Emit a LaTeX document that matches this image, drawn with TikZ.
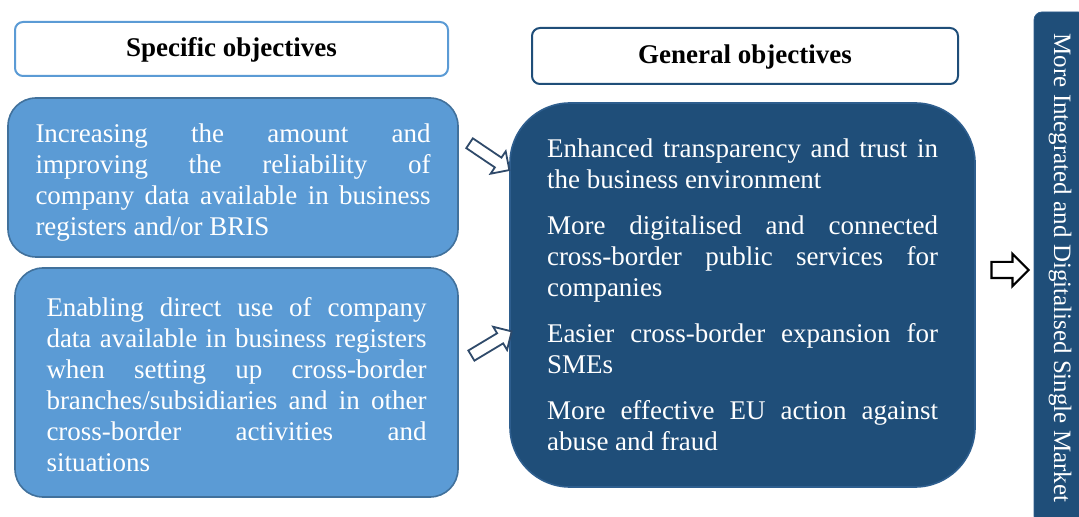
\documentclass[tikz,border=0pt]{standalone}
\usepackage{fontspec}
\setmainfont{Liberation Serif}
\usepackage{xcolor}
\usetikzlibrary{shapes.arrows}
\definecolor{specblue}{HTML}{5B9BD5}
\definecolor{specline}{HTML}{41719C}
\definecolor{genblue}{HTML}{1F4E79}
\definecolor{genline}{HTML}{2E5E8E}
\definecolor{arrline}{HTML}{2F4A6A}
\def\bodyfont{\fontsize{13.5}{15.5}\selectfont}
\def\gap{\par\vspace{7.5pt}}

\begin{document}
\begin{tikzpicture}[x=0.5pt,y=-0.5pt,
	headbox/.style={draw,line width=1pt,fill=white,rounded corners=4pt,font=\bodyfont\bfseries,text depth=1.5pt},
	specbox/.style={draw=specline,line width=0.8pt,fill=specblue,rounded corners=14pt,
		text=white,font=\bodyfont,align=justify,inner sep=0pt},
	genbox/.style={draw=genline,line width=0.8pt,fill=genblue,rounded corners=30pt,
		text=white,font=\bodyfont,align=justify,inner sep=0pt},
	hollow/.style={single arrow,draw=arrline,fill=white,line width=0.9pt,inner sep=2.5pt,
		single arrow head extend=3.8pt,single arrow tip angle=90}
	]
	\useasboundingbox (0,0) rectangle (1079,517);
	\node[headbox,draw=specblue,minimum width=216.5pt,minimum height=27pt] (spec) at (231.5,49) {Specific objectives};
	\node[headbox,draw=genblue,minimum width=213pt,minimum height=28pt] (gen) at (745,56) {General objectives};
	\node[specbox,minimum width=225pt,minimum height=79.5pt,text width=197.5pt] (s1) at (233,177.5)
		{\hyphenpenalty=10000\exhyphenpenalty=10000
		Increasing the amount and\linebreak improving the reliability of\linebreak
		company data available in business\linebreak registers and/or BRIS\par\vspace{-5pt}};
	\node[specbox,minimum width=221.5pt,minimum height=114.5pt,text width=190pt] (s2) at (236.5,382.5)
		{\hyphenpenalty=10000\exhyphenpenalty=10000
		Enabling direct use of company\linebreak data available in business registers\linebreak
		when setting up cross-border\linebreak branches/subsidiaries and in other\linebreak
		cross-border activities and\linebreak situations\par\vspace{-2pt}};
	\node[genbox,minimum width=232.5pt,minimum height=192pt,text width=195.5pt] (g) at (742.5,295)
		{\hyphenpenalty=10000\exhyphenpenalty=10000
		Enhanced transparency and trust in\linebreak the business environment\gap
		More digitalised and connected\linebreak cross-border public services for\linebreak companies\gap
		Easier cross-border expansion for\linebreak SMEs\gap
		More effective EU action against\linebreak abuse and fraud};
	\node[draw=genline,fill=genblue,rounded corners=4pt,rotate=-90,minimum width=256pt,minimum height=26pt,
		text=white,font=\fontsize{12.5}{14}\selectfont] (m) at (1060,268) {More Integrated and Digitalised Single Market};
	\node[hollow,rotate=-34,minimum height=24pt,minimum width=11pt] (a1) at (487,155) {};
	\node[hollow,rotate=31,minimum height=23.5pt,minimum width=11pt] (a2) at (489,345) {};
	\node[hollow,draw=black,line width=1.1pt,inner sep=3.5pt,single arrow head extend=4pt,
		minimum height=18.5pt,minimum width=14pt] (a3) at (1006,270) {};
\end{tikzpicture}
\end{document}
